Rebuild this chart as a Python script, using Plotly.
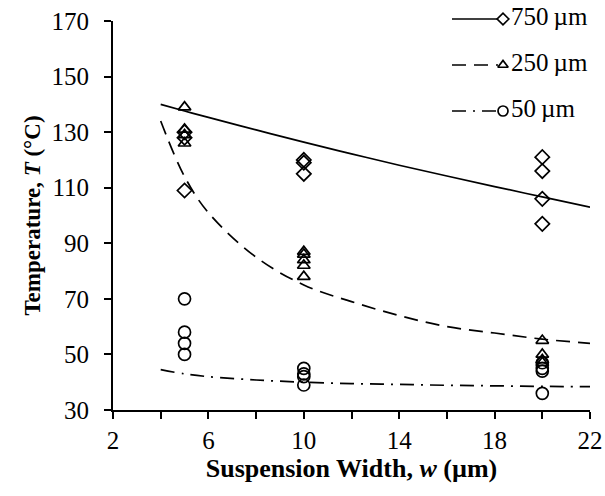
import plotly.graph_objects as go

# Measured temperatures at each suspension width, grouped by beam length
w_750 = [5, 5, 5, 10, 10, 10, 20, 20, 20, 20]
t_750 = [130, 128, 109, 120, 119, 115, 121, 116, 106, 97]

w_250 = [5, 5, 5, 5, 10, 10, 10, 10, 10, 20, 20, 20, 20]
t_250 = [139, 131, 129, 126, 87, 86, 84, 82, 78, 55, 50, 48, 47]

w_50 = [5, 5, 5, 5, 10, 10, 10, 10, 20, 20, 20, 20]
t_50 = [70, 58, 54, 50, 45, 43, 42, 39, 47, 45, 44, 36]

# Trend curves
fit_w = [4, 5, 6, 8, 10, 12, 14, 16, 18, 20, 22]
fit_750 = [140, 137.6, 135.3, 130.8, 126.4, 122.2, 118.1, 114.2, 110.4, 106.7, 103]
fit_250 = [134, 114, 101, 85, 75, 69, 64, 60, 57.7, 55.5, 54]
fit_50 = [44.5, 43, 42, 40.8, 40, 39.5, 39.2, 38.9, 38.7, 38.5, 38.4]

legend_labels = ["750\u2009µm", "250\u2009µm", "50\u2009µm"]

W, H = 605, 496
PLOT_L, PLOT_R, PLOT_T, PLOT_B = 113, 590, 21, 410

FONT = "Liberation Serif"
FS = 25
BLACK = "#000000"

series = [
    (w_750, t_750, fit_750, "diamond-open", 11, "solid"),
    (w_250, t_250, fit_250, "triangle-up-open", 11, "14px,8px"),
    (w_50, t_50, fit_50, "circle-open", 12, "14px,7px,2px,7px"),
]

fig = go.Figure()

for wx, ty, fy, sym, size, dash in series:
    fig.add_trace(go.Scatter(
        x=fit_w, y=fy, mode="lines",
        line=dict(color=BLACK, width=1.7, dash=dash, shape="spline"),
        showlegend=False, hoverinfo="skip",
    ))
    fig.add_trace(go.Scatter(
        x=wx, y=ty, mode="markers",
        marker=dict(symbol=sym, size=size, color=BLACK,
                    line=dict(color=BLACK, width=1.7)),
        showlegend=False, cliponaxis=False,
    ))

# Hand-built legend on a full-page pixel-space axis pair: line, marker, label
LEG_X0, LEG_X1, LEG_MK, LEG_TX = 452, 498, 503, 511
LEG_ROWS = [19, 65, 111]
for (wx, ty, fy, sym, size, dash), row, label in zip(series, LEG_ROWS, legend_labels):
    fig.add_trace(go.Scatter(
        x=[LEG_X0, LEG_X1], y=[row, row], mode="lines",
        line=dict(color=BLACK, width=1.7, dash=dash),
        xaxis="x2", yaxis="y2", showlegend=False, hoverinfo="skip",
    ))
    fig.add_trace(go.Scatter(
        x=[LEG_MK], y=[row], mode="markers",
        marker=dict(symbol=sym, size=size - 2, color=BLACK,
                    line=dict(color=BLACK, width=1.7)),
        xaxis="x2", yaxis="y2", showlegend=False, hoverinfo="skip",
        cliponaxis=False,
    ))
    fig.add_trace(go.Scatter(
        x=[LEG_TX], y=[row], mode="text",
        text=[label], textposition="middle right",
        textfont=dict(family=FONT, size=FS, color=BLACK),
        xaxis="x2", yaxis="y2", showlegend=False, hoverinfo="skip",
        cliponaxis=False,
    ))

fig.update_layout(
    width=W, height=H,
    margin=dict(l=0, r=0, t=0, b=0),
    paper_bgcolor="white", plot_bgcolor="rgba(0,0,0,0)",
    font=dict(family=FONT, size=FS, color=BLACK),
    xaxis=dict(
        domain=[PLOT_L / W, PLOT_R / W],
        range=[2, 22], dtick=4, tick0=2,
        showgrid=False, zeroline=False, automargin=False,
        showline=True, linecolor=BLACK, linewidth=2,
        ticks="outside", ticklen=7, tickwidth=1.7, tickcolor=BLACK,
        minor=dict(dtick=2, tick0=2, ticks="outside", ticklen=7,
                   tickwidth=1.7, tickcolor=BLACK, showgrid=False),
        tickfont=dict(family=FONT, size=FS),
        title=dict(text="<b>Suspension Width, <i>w</i> (µm)</b>",
                   font=dict(family=FONT, size=26), standoff=2),
        anchor="y",
    ),
    yaxis=dict(
        domain=[(H - PLOT_B) / H, (H - PLOT_T) / H],
        range=[30, 170], dtick=20, tick0=30,
        showgrid=False, zeroline=False, automargin=False,
        showline=True, linecolor=BLACK, linewidth=2,
        ticks="outside", ticklen=7, tickwidth=1.7, tickcolor=BLACK,
        ticklabelstandoff=10,
        tickfont=dict(family=FONT, size=FS),
        title=dict(text="<b>Temperature, <i>T</i> (°C)</b>",
                   font=dict(family=FONT, size=23), standoff=4),
        anchor="x",
    ),
    xaxis2=dict(domain=[0, 1], range=[0, W], visible=False,
                anchor="y2", fixedrange=True, automargin=False),
    yaxis2=dict(domain=[0, 1], range=[H, 0], visible=False,
                anchor="x2", fixedrange=True, automargin=False),
)

fig.write_html("out.html")
